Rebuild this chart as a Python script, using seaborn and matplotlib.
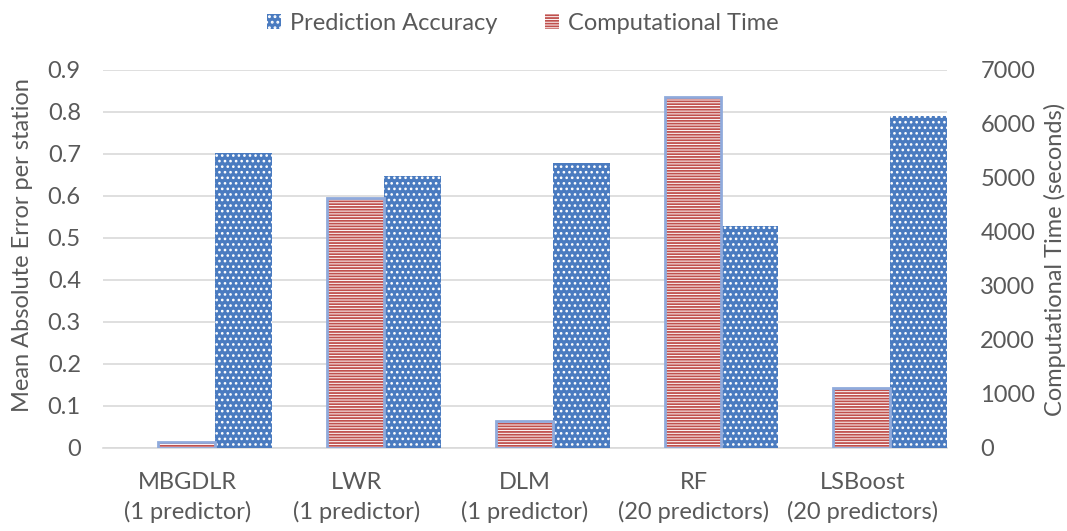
import matplotlib
matplotlib.use("Agg")
import matplotlib.pyplot as plt
import matplotlib.patches as mpatches
import seaborn as sns
import pandas as pd
import numpy as np

models = ["MBGDLR\n(1 predictor)", "LWR\n(1 predictor)", "DLM\n(1 predictor)",
          "RF\n(20 predictors)", "LSBoost\n(20 predictors)"]
accuracy = [0.702, 0.648, 0.679, 0.529, 0.791]
comp_time = [120, 4630, 500, 6500, 1120]
left_ticks = [0, 0.1, 0.2, 0.3, 0.4, 0.5, 0.6, 0.7, 0.8, 0.9]
right_ticks = [0, 1000, 2000, 3000, 4000, 5000, 6000, 7000]

sns.set_theme(style="white")
plt.rcParams['font.family'] = ['Lato', 'DejaVu Sans']
plt.rcParams['hatch.linewidth'] = 1.3
FS = 17
TXT = "#595959"
BLUE = "#4A7BC0"
RED = "#C0504D"
EDGE = "#8FAADC"
SHIFT = 0.164  # Excel draws the bar groups slightly right of category centres

order = ["Computational Time", "Prediction Accuracy"]
df = pd.concat([
    pd.DataFrame({"Model": models, "Series": "Computational Time", "Value": comp_time}),
    pd.DataFrame({"Model": models, "Series": "Prediction Accuracy", "Value": accuracy}),
], ignore_index=True)
pal = {"Prediction Accuracy": BLUE, "Computational Time": RED}

fig = plt.figure(figsize=(10.67, 5.31), dpi=100)
ax1 = fig.add_axes([103 / 1067, 1 - 448 / 531, 844 / 1067, 378 / 531])
ax2 = ax1.twinx()

sns.barplot(data=df, x="Model", y="Value", hue="Series", hue_order=order, order=models,
            palette=pal, width=0.675, ax=ax1, legend=False, errorbar=None, zorder=3)
sns.barplot(data=df, x="Model", y="Value", hue="Series", hue_order=order, order=models,
            palette=pal, width=0.675, ax=ax2, legend=False, errorbar=None, zorder=3)

# axis 1 keeps the accuracy bars, axis 2 keeps the time bars
for p in list(ax1.patches):
    if p.get_height() > 1:
        p.remove()
    else:
        p.set_facecolor(BLUE)
        p.set_edgecolor("white")
        p.set_hatch("...")
        p.set_linewidth(0)
        if hasattr(p, "set_hatch_linewidth"):
            p.set_hatch_linewidth(1.1)
for p in list(ax2.patches):
    if p.get_height() <= 1:
        p.remove()
        continue
    p.set_facecolor("white")
    p.set_edgecolor(RED)
    p.set_hatch("------")
    p.set_linewidth(0)
    x, y = p.get_xy()
    ax2.add_patch(mpatches.Rectangle((x, y), p.get_width(), p.get_height(),
                                     fill=False, edgecolor=EDGE, linewidth=2, zorder=4))

ax1.set_ylim(0, 0.9)
ax1.set_yticks(left_ticks)
ax1.set_yticklabels(["0" if t == 0 else f"{t:.1f}" for t in left_ticks])
ax2.set_ylim(0, 7000)
ax2.set_yticks(right_ticks)
ax2.set_yticklabels([str(t) for t in right_ticks])
ax1.set_xlim(-0.5 - SHIFT, len(models) - 0.5 - SHIFT)
ax1.set_xticks(np.arange(len(models)) - SHIFT)
ax1.set_xticklabels(models, linespacing=1.45)

ax1.yaxis.grid(True, color="#D9D9D9", linewidth=1.2, zorder=0)
ax1.set_axisbelow(True)
for ax in (ax1, ax2):
    for s in ax.spines.values():
        s.set_visible(False)
    ax.tick_params(axis="both", length=0, labelsize=FS, labelcolor=TXT)
ax1.spines["bottom"].set_visible(True)
ax1.spines["bottom"].set_color("#D9D9D9")
ax1.spines["bottom"].set_linewidth(1.2)
ax1.tick_params(axis="y", pad=16)
ax2.tick_params(axis="y", pad=24)
ax1.tick_params(axis="x", pad=17)

ax1.set_xlabel("")
ax1.set_ylabel("Mean Absolute Error per station", fontsize=FS, color=TXT)
ax1.yaxis.set_label_coords(-0.083, 0.537)
ax2.set_ylabel("Computational Time (seconds)", fontsize=FS, color=TXT, labelpad=6)

h1 = mpatches.Patch(facecolor=BLUE, edgecolor="white", hatch="...", linewidth=0, label="Prediction Accuracy")
h2 = mpatches.Patch(facecolor="white", edgecolor=RED, hatch="------", linewidth=0, label="Computational Time")
fig.legend(handles=[h1, h2], loc="upper center", bbox_to_anchor=(0.49, 1.015), ncol=2,
           frameon=False, fontsize=FS, labelcolor=TXT, handlelength=0.6, handleheight=0.6,
           columnspacing=2.0, handletextpad=0.4)

fig.savefig("out.png", dpi=100)
